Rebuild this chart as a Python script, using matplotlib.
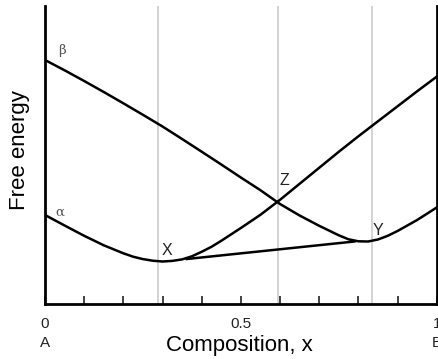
import matplotlib
matplotlib.use("Agg")
import matplotlib.pyplot as plt

plt.rcParams['font.family'] = ['Liberation Sans', 'DejaVu Sans']

# composition grid and free-energy curves
x_beta = [0, 0.05, 0.1, 0.15, 0.2, 0.25, 0.3, 0.35, 0.4, 0.45, 0.5, 0.55, 0.6,
          0.65, 0.7, 0.75, 0.775, 0.8, 0.825, 0.85, 0.875, 0.9, 0.95, 1.0]
g_beta = [244.3, 234.0, 223.3, 212.3, 201.0, 189.5, 177.8, 165.3, 152.6, 139.8, 126.8,
          114.1, 100.3, 88.8, 78.5, 69.0, 65.0, 63.0, 62.8, 64.8, 68.5, 73.3, 84.3, 96.8]

x_alpha = [0, 0.05, 0.1, 0.15, 0.2, 0.225, 0.25, 0.275, 0.3, 0.325, 0.35, 0.375, 0.4,
           0.425, 0.45, 0.5, 0.55, 0.6, 0.65, 0.7, 0.75, 0.8, 0.85, 0.9, 0.95, 1.0]
g_alpha = [89.3, 78.8, 68.5, 59.0, 51.0, 47.6, 45.2, 43.6, 42.8, 43.4, 44.9, 48.0, 52.5,
           57.5, 63.5, 76.3, 89.5, 104.5, 120.5, 136.5, 152.5, 168.0, 183.0, 198.0,
           213.0, 227.6]

# common tangent X -> Y
x_tangent = [0.362, 0.79]
g_tangent = [45.3, 62.8]

# vertical guide lines at X, Z, Y
x_guides = [0.289, 0.594, 0.834]

point_labels = ['X', 'Z', 'Y']
point_x = [0.311, 0.610, 0.850]
point_y = [53.8, 123.8, 74.3]

tick_pos = [0, 0.5, 1]
tick_text = ['0\nA', '0.5', '1\nB']

fig = plt.figure(figsize=(4.38, 3.59), dpi=100)
ax = fig.add_axes([45 / 438, (359 - 304.3) / 359, 391.7 / 438, 298.3 / 359])

for xg in x_guides:
    ax.axvline(xg, color='#c8c8c8', lw=1.1, zorder=1)

ax.plot(x_beta, g_beta, color='black', lw=1.8, zorder=3)
ax.plot(x_alpha, g_alpha, color='black', lw=1.8, zorder=3)
ax.plot(x_tangent, g_tangent, color='black', lw=1.8, zorder=3)

for lab, px, py in zip(point_labels, point_x, point_y):
    ax.text(px, py, lab, fontsize=11.5, ha='center', va='center', color='#222222')

ax.text(0.043, 254, '\u03b2', fontsize=9.5, ha='center', va='center',
        family='DejaVu Serif', color='#555555')
ax.text(0.038, 92, '\u03b1', fontsize=9.5, ha='center', va='center',
        family='DejaVu Serif', color='#555555')

ax.set_xlim(0, 1)
ax.set_ylim(0, 298.3)
ax.set_yticks([])
ax.set_xticks(tick_pos)
ax.set_xticklabels(tick_text, fontsize=11, linespacing=1.5)
ax.set_xticks([i / 10 for i in range(11)], minor=True)
ax.tick_params(axis='x', which='both', direction='in', length=6, width=1.3,
               pad=9, color='#333333')
ax.tick_params(axis='x', which='major', labelcolor='#222222')

ax.spines['top'].set_visible(False)
for s in ['left', 'right', 'bottom']:
    ax.spines[s].set_linewidth(2.0)

ax.set_xlabel('Composition, x', fontsize=16, va='center')
ax.xaxis.set_label_coords(0.497, -0.138)
ax.set_ylabel('Free energy', fontsize=16, va='center')
ax.yaxis.set_label_coords(-0.066, 0.517)

fig.savefig('out.png', dpi=100)
